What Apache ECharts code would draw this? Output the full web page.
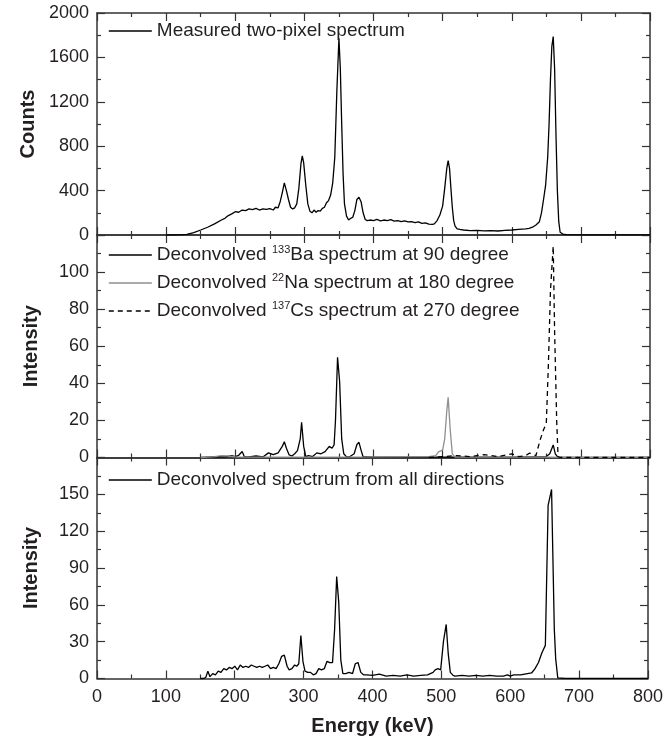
<!DOCTYPE html>
<html>
<head>
<meta charset="utf-8">
<script src="https://cdn.jsdelivr.net/npm/echarts@6/dist/echarts.min.js"></script>
<style>html,body{margin:0;padding:0;background:#fff;}#c{width:666px;height:754px;}</style>
</head>
<body>
<div id="c"></div>
<script>
// ---- Top panel: measured two-pixel spectrum ----
var measE = [100,120,130,140,150,160,170,180,185,190,195,200,205,210,215,220,225,230,235,240,245,250,255,258,262,265,268,271,274,277,280,283,286,289,292,295,297,299,302,305,308,311,314,317,320,323,326,329,332,335,338,341,344,347,350,352,354,356,358,361,364,367,370,373,376,379,382,385,388,391,395,400,405,410,415,420,425,430,435,440,445,450,455,460,465,470,475,480,485,488,492,496,500,503,506,508,510,512,514,516,518,521,525,530,540,550,560,570,580,590,600,610,620,625,630,635,640,643,646,649,652,654,656,658,660,662,664,666,668,670,675,680,700,750,800];
var measC = [0,1,6,22,45,70,100,135,150,175,190,210,205,225,220,235,228,240,225,235,230,238,225,250,245,300,380,470,400,320,250,235,245,280,420,640,712,650,450,280,215,200,225,205,220,215,240,250,290,310,360,470,700,1300,1772,1500,1000,550,280,170,135,150,160,220,320,340,300,200,140,130,135,130,140,128,135,130,138,125,130,120,128,118,120,112,118,105,110,98,95,100,130,180,260,420,600,670,600,420,250,130,80,55,50,45,40,42,38,40,36,42,45,50,55,60,70,90,120,200,320,450,700,1000,1400,1700,1787,1500,900,400,120,25,5,3,2,2,2];

// ---- Middle panel: deconvolved spectra per source ----
var baE = [150,165,175,185,195,200,205,210,213,220,230,240,248,255,262,268,271,274,278,282,286,290,294,296,299,302,306,312,318,324,330,336,340,343,345,348,351,354,357,361,366,372,376,379,382,385,390,400,450,500,550,600,650,655,660,663,667,700,800];
var baI = [0,0.3,0.5,0.3,1,0.5,1.2,3.2,0.5,0.3,0.8,0.3,2.5,1.5,2.5,6,8.5,5,1.4,0.8,2,3.7,10,19,6,0.5,1,0.5,2.5,2,3.2,6,5,6.8,20,54,41,10,2,0.3,0.5,2,7,8.2,4,0.3,0.3,0.2,0.2,0.2,0.2,0.2,0.5,2,6.8,2,0,0,0];
var naE = [150,170,180,190,200,220,300,400,480,490,494,500,503,506,508,511,514,518,560,600,650,700,800];
var naI = [0,0.5,1,0.8,0.3,0.2,0.2,0.3,0.5,1,3,4,10,25,32.5,15,2,0.2,0.2,0.3,0.2,0,0];
var csE = [480,500,520,540,560,580,600,610,620,626,635,641,646,650,653,656,660,662,665,667,670,700,800];
var csI = [0,0.5,1,0.5,1.5,0.5,2,0.5,1,2.4,1,9.4,15,18.4,50,90,114,68,20,0.5,0,0,0];

// ---- Bottom panel: deconvolved spectrum from all directions ----
var allE = [150,155,158,161,164,168,172,176,180,184,188,192,196,200,204,208,212,216,220,224,228,232,236,240,244,248,252,256,260,264,268,272,276,279,283,287,290,293,296,299,302,306,310,314,318,322,326,330,334,338,342,345,348,351,354,357,361,366,371,375,379,383,387,392,400,410,420,430,440,450,460,470,480,488,491,495,499,503,507,510,513,517,520,530,540,550,560,570,580,590,596,600,605,615,625,631,636,641,646,651,655,660,664,666,669,680,700,800];
var allI = [0,0,1,6,1.5,4,3,6,5,8,7,9,8,10,7,11,9,10,9,11,10,9,10,9,10,11,8,9,8,12,18,19,10,7,8,11,10,12,35,14,6,5,5,3,4,8,7,8,14,13,13,40,83,62,15,4,4,5,4,12,13,5,3,3,2.5,3.5,2,2.5,2,3,2,2.5,3,5,7,8,7,30,44,20,5,2.5,2,2.5,2,2.5,2,2.5,2,2,3,2,3,3,4,4.5,8,13,21,27,141,154,40,16,0.5,0,0,0];

// ---- axis settings / labels ----
var topY = {min:0, max:2000, step:400};
var midY = {min:0, max:120, step:20};
var botY = {min:0, max:180, step:30};
var names = {
  meas: 'Measured two-pixel spectrum',
  ba: 'Deconvolved 133Ba spectrum at 90 degree',
  na: 'Deconvolved 22Na spectrum at 180 degree',
  cs: 'Deconvolved 137Cs spectrum at 270 degree',
  all: 'Deconvolved spectrum from all directions'
};
var legendRich = {};
legendRich[names.ba] = '{n|Deconvolved }{s|133}{n|Ba spectrum at 90 degree}';
legendRich[names.na] = '{n|Deconvolved }{s|22}{n|Na spectrum at 180 degree}';
legendRich[names.cs] = '{n|Deconvolved }{s|137}{n|Cs spectrum at 270 degree}';

function zip(a,b){ return a.map(function(v,i){return [v,b[i]];}); }

var FONT = "'Liberation Sans', Arial, sans-serif";
var TXT = '#231f20';
var AX = '#333333';

var grids = [
  {left:97, right:16, top:13, height:222},
  {left:97, right:16, top:235, height:222.5},
  {left:97, right:16, top:457.5, height:221}
];

var xAxes = [], yAxes = [];
var ycfg = [topY, midY, botY];
var ynames = ['Counts','Intensity','Intensity'];
for (var g=0; g<3; g++) {
  ['bottom','top'].forEach(function(pos){
    var showLab = (g===2 && pos==='bottom');
    xAxes.push({
      type:'value', gridIndex:g, position:pos, min:0, max:800, interval:100,
      axisLine:{show:true, onZero:false, lineStyle:{color:AX, width:1.5}},
      axisTick:{show:true, inside:true, length:8, lineStyle:{color:AX, width:1.2}},
      minorTick:{show:true, splitNumber:2, length:4, lineStyle:{color:AX, width:1.2}},
      splitLine:{show:false},
      axisLabel:{show:showLab, color:TXT, fontSize:18, fontFamily:FONT, margin:10},
      name: showLab ? 'Energy (keV)' : '',
      nameLocation:'middle', nameGap:38,
      nameTextStyle:{color:TXT, fontSize:20, fontWeight:'bold', fontFamily:FONT}
    });
  });
  (function(g){
    var c = ycfg[g];
    ['left','right'].forEach(function(pos){
      var showLab = pos==='left';
      yAxes.push({
        type:'value', gridIndex:g, position:pos, min:c.min, max:c.max, interval:c.step,
        axisLine:{show:true, onZero:false, lineStyle:{color:AX, width:1.5}},
        axisTick:{show:true, inside:true, length:8, lineStyle:{color:AX, width:1.2}},
        minorTick:{show:true, splitNumber:2, length:4, lineStyle:{color:AX, width:1.2}},
        splitLine:{show:false},
        axisLabel:{show:showLab, color:TXT, fontSize:18, fontFamily:FONT, margin:8,
          showMaxLabel: g===0,
          formatter:function(v){ return (g>0 && v===c.max) ? '' : String(v); }},
        name: showLab ? ynames[g] : '',
        nameLocation:'middle', nameGap:56,
        nameTextStyle:{color:TXT, fontSize:20, fontWeight:'bold', fontFamily:FONT}
      });
    });
  })(g);
}

function line(name, e, v, g, color, width, dash) {
  return {
    type:'line', name:name, xAxisIndex:g*2, yAxisIndex:g*2, data:zip(e,v),
    symbol:'none', showSymbol:false, smooth:false, animation:false,
    lineStyle:{color:color, width:width, type:dash||'solid'},
    itemStyle:{color:color}
  };
}

var legTxt = {color:TXT, fontSize:19, fontFamily:FONT, lineHeight:22,
  rich:{ n:{fontSize:19, fontFamily:FONT, color:TXT, lineHeight:22, verticalAlign:'middle'},
         s:{fontSize:11, fontFamily:FONT, color:TXT, lineHeight:22, verticalAlign:'top'} } };
var legBase = {left:108, padding:0, itemWidth:43, itemHeight:14, selectedMode:false,
  textStyle:legTxt, itemStyle:{opacity:0, borderWidth:0}, lineStyle:{width:1.6}};
function leg(extra){ var o = {}; for (var k in legBase) o[k]=legBase[k]; for (var k2 in extra) o[k2]=extra[k2]; return o; }

var option = {
  backgroundColor:'#ffffff',
  animation:false,
  grid: grids,
  xAxis: xAxes,
  yAxis: yAxes,
  legend: [
    leg({data:[names.meas], top:20}),
    leg({data:[names.ba, names.na, names.cs], orient:'vertical', top:244, itemGap:6,
      formatter:function(n){ return legendRich[n]; }}),
    leg({data:[names.all], top:469})
  ],
  series: [
    line(names.meas, measE, measC, 0, '#000000', 1.3),
    line(names.ba, baE, baI, 1, '#000000', 1.3),
    line(names.na, naE, naI, 1, '#8f8f8f', 1.3),
    line(names.cs, csE, csI, 1, '#000000', 1.3, [5,4]),
    line(names.all, allE, allI, 2, '#000000', 1.3)
  ]
};
var chart = echarts.init(document.getElementById('c'), null, {renderer:'canvas'});
chart.setOption(option);
</script>
</body>
</html>
